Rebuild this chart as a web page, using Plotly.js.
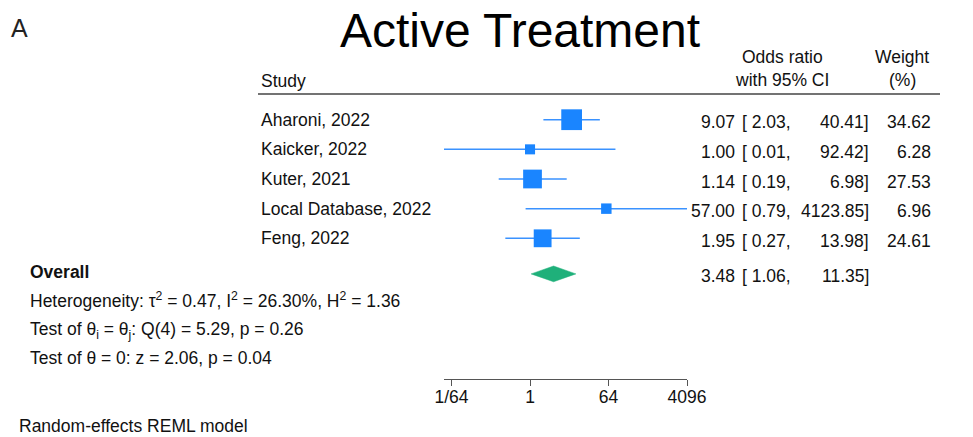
<!DOCTYPE html>
<html>
<head>
<meta charset="utf-8">
<script src="https://cdn.plot.ly/plotly-3.0.1.min.js"></script>
<style>html,body{margin:0;padding:0;background:#fff;}#chart{width:973px;height:437px;}</style>
</head>
<body>
<div id="chart"></div>
<script>
// ---- data ----
const studies = ["Aharoni, 2022", "Kaicker, 2022", "Kuter, 2021", "Local Database, 2022", "Feng, 2022"];
const oddsRatio = [9.07, 1.00, 1.14, 57.00, 1.95];
const ciLow = [2.03, 0.01, 0.19, 0.79, 0.27];
const ciHigh = [40.41, 92.42, 6.98, 4123.85, 13.98];
const weights = [34.62, 6.28, 27.53, 6.96, 24.61];
const overallOR = 3.48;
const overallLow = 1.06;
const overallHigh = 11.35;
const tickVals = [1/64, 1, 64, 4096];
const tickText = ["1/64", "1", "64", "4096"];
const statLines = [
  "Heterogeneity: \u03c4<sup>2</sup> = 0.47, I<sup>2</sup> = 26.30%, H<sup>2</sup> = 1.36",
  "Test of \u03b8<sub>i</sub> = \u03b8<sub>j</sub>: Q(4) = 5.29, p = 0.26",
  "Test of \u03b8 = 0: z = 2.06, p = 0.04"
];

// ---- layout helpers ----
const W = 973, H = 437;
const FONT = "Liberation Sans, Arial, Helvetica, sans-serif";
const FS = 17.5;
const px = x => x / W;
const py = y => 1 - y / H;
const rows = studies.map((s, i) => i + 1);
const overallRow = rows.length + 1.2;
const fmt = v => v.toFixed(2);

const ciX = [], ciY = [];
studies.forEach((s, i) => { ciX.push(ciLow[i], ciHigh[i], null); ciY.push(rows[i], rows[i], null); });

const blue = "#1a85ff";
const green = "#1fb07a";

const traces = [
  { type: "scatter", mode: "lines", x: ciX, y: ciY, line: { color: "#3a92ff", width: 1.5 },
    hoverinfo: "skip", cliponaxis: false, showlegend: false },
  { type: "scatter", mode: "markers", x: oddsRatio, y: rows,
    marker: { symbol: "square", color: blue, opacity: 1,
              size: weights.map(w => 3.17 * Math.sqrt(w) + 2.1), line: { width: 0 } },
    cliponaxis: false, showlegend: false },
  { type: "scatter", mode: "lines", fill: "toself", fillcolor: green,
    x: [overallLow, overallOR, overallHigh, overallOR, overallLow],
    y: [overallRow, overallRow - 0.265, overallRow, overallRow + 0.265, overallRow],
    line: { color: green, width: 0.5 }, cliponaxis: false, showlegend: false }
];

const ann = [];
function txt(text, x, xref, y, yref, xanchor, opts) {
  ann.push(Object.assign({ text: text, x: x, xref: xref, y: y, yref: yref, xanchor: xanchor, yanchor: "middle",
    showarrow: false, font: { family: FONT, size: FS, color: "#111" } }, opts || {}));
}
// panel letter
txt("A", px(9), "paper", py(28), "paper", "left", { font: { family: FONT, size: 25, color: "#222" } });
// headers
txt("Study", px(259), "paper", py(81), "paper", "left");
txt("Odds ratio", px(782), "paper", py(57), "paper", "center");
txt("with 95% CI", px(782), "paper", py(80), "paper", "center");
txt("Weight", px(902), "paper", py(57), "paper", "center");
txt("(%)", px(902), "paper", py(80), "paper", "center");
// study rows
studies.forEach((s, i) => {
  txt(s, px(259), "paper", rows[i], "y", "left");
  txt(fmt(oddsRatio[i]), px(737), "paper", rows[i] + 0.09, "y", "right");
  txt("[ " + fmt(ciLow[i]) + ",", px(740), "paper", rows[i] + 0.09, "y", "left");
  txt(fmt(ciHigh[i]) + "]", px(871), "paper", rows[i] + 0.09, "y", "right");
  txt(fmt(weights[i]), px(933), "paper", rows[i] + 0.09, "y", "right");
});
// overall
txt("<b>Overall</b>", px(28), "paper", py(272), "paper", "left");
txt(fmt(overallOR), px(737), "paper", overallRow + 0.08, "y", "right");
txt("[ " + fmt(overallLow) + ",", px(740), "paper", overallRow + 0.08, "y", "left");
txt(fmt(overallHigh) + "]", px(871), "paper", overallRow + 0.08, "y", "right");
// stats
const statY = [300, 330, 358];
statLines.forEach((s, i) => txt(s, px(28), "paper", py(statY[i]), "paper", "left"));
txt("Random-effects REML model", px(17), "paper", py(426), "paper", "left");

const rowPx = 29.65, row1Px = 119.7, axisPx = 379;
const yTop = 1 - row1Px / rowPx;
const yBottom = 1 + (axisPx - row1Px) / rowPx;

const layout = {
  width: W, height: H,
  margin: { l: 0, r: 0, t: 0, b: 0, pad: 0 },
  paper_bgcolor: "#fff", plot_bgcolor: "rgba(0,0,0,0)",
  font: { family: FONT, size: FS, color: "#111" },
  title: { text: "Active Treatment", x: px(520), xanchor: "center", xref: "paper",
           y: py(30), yanchor: "middle", yref: "paper", font: { family: FONT, size: 48, color: "#000" } },
  showlegend: false,
  xaxis: {
    type: "log", domain: [px(444), px(687)], range: [-1.98, Math.log10(4096)],
    showline: true, linecolor: "#555", linewidth: 1, ticks: "outside", ticklen: 6, tickcolor: "#555",
    ticklabelstandoff: -4,
    tickvals: tickVals, ticktext: tickText, tickfont: { family: FONT, size: FS, color: "#111" },
    showgrid: false, zeroline: false, fixedrange: true, anchor: "y"
  },
  yaxis: {
    domain: [(H - axisPx) / H, 1], range: [yBottom, yTop],
    visible: false, showgrid: false, zeroline: false, fixedrange: true
  },
  shapes: [
    { type: "line", xref: "paper", yref: "paper", x0: px(258), x1: px(940), y0: py(94), y1: py(94),
      line: { color: "#444", width: 1.6 } }
  ],
  annotations: ann
};

Plotly.newPlot("chart", traces, layout, { staticPlot: true, displayModeBar: false });
</script>
</body>
</html>
